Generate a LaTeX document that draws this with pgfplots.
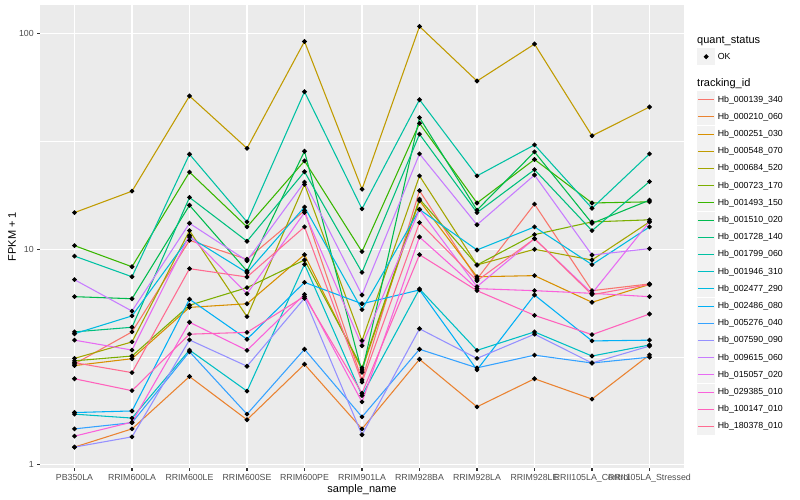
\documentclass[border=0pt]{standalone}
\usepackage{fontspec}
\setmainfont{Liberation Sans}
\usepackage{pgfplots}
\usepackage{pgfplotstable}
\pgfplotsset{compat=1.18}

\definecolor{panelbg}{HTML}{EBEBEB}
\definecolor{keybg}{HTML}{F2F2F2}
\definecolor{gray20}{HTML}{333333}
\definecolor{gray30}{HTML}{4D4D4D}
\definecolor{c1}{HTML}{F8766D}
\definecolor{c2}{HTML}{EA8331}
\definecolor{c3}{HTML}{D89000}
\definecolor{c4}{HTML}{C09B00}
\definecolor{c5}{HTML}{A3A500}
\definecolor{c6}{HTML}{7CAE00}
\definecolor{c7}{HTML}{39B600}
\definecolor{c8}{HTML}{00BB4E}
\definecolor{c9}{HTML}{00BF7D}
\definecolor{c10}{HTML}{00C1A3}
\definecolor{c11}{HTML}{00BFC4}
\definecolor{c12}{HTML}{00BAE0}
\definecolor{c13}{HTML}{00B0F6}
\definecolor{c14}{HTML}{35A2FF}
\definecolor{c15}{HTML}{9590FF}
\definecolor{c16}{HTML}{C77CFF}
\definecolor{c17}{HTML}{E76BF3}
\definecolor{c18}{HTML}{FA62DB}
\definecolor{c19}{HTML}{FF62BC}
\definecolor{c20}{HTML}{FF6C91}

% FPKM + 1, one row per sample, one column per tracking_id
\pgfplotstableread{
x  s1    s2   s3    s4    s5    s6    s7    s8    s9    s10   s11   s12   s13   s14   s15   s16   s17   s18   s19   s20
1  2.94  1.21 2.89  14.8  3.12  3.04  10.4  6.03  4.14  9.3   1.72  4.06  1.75  1.47  1.21  7.23  3.79  1.36  2.51  2.98
2  4.14  1.47 3.11  18.6  3.72  3.20  8.3   5.9   4.35  7.46  1.65  4.91  1.78  1.57  1.35  5.17  3.41  1.58  2.21  2.68
3  11.0  2.57 5.38  51.4  12.2  5.50  22.8  16.0  17.4  27.6  3.41  11.4  5.87  3.35  3.80  13.2  11.6  4.59  4.04  8.13
4  8.99  1.62 5.59  29.4  4.87  6.64  12.7  7.93  10.9  13.4  2.20  7.79  3.83  1.72  2.87  8.85  6.22  3.40  4.12  7.44
5  15.1  2.93 9.44  92.0  20.0  8.92  25.7  28.5  22.9  53.8  8.52  15.7  7.03  3.44  5.93  20.5  14.8  6.18  6.05  12.7
6  2.48  1.47 2.76  19.0  3.77  2.82  9.75  2.69  7.82  15.4  2.10  5.25  5.59  1.67  1.38  6.14  3.57  1.96  2.15  2.42
7  18.7  3.09 16.8  108   21.9  17.1  38.4  40.8  34.2  49.4  6.55  15.3  6.48  3.44  4.28  27.7  15.3  11.4  9.44  13.3
8  7.28  1.86 7.46  60.3  8.46  8.46  16.4  15.2  14.8  21.9  3.40  9.93  2.76  2.82  3.12  13.0  6.71  6.57  6.43  7.15
9  16.2  2.51 7.55  89.5  10.0  11.7  26.1  28.3  23.4  30.5  4.14  12.7  6.14  3.23  4.04  22.1  11.2  6.43  4.94  11.2
10 6.43  2.02 5.68  33.6  8.92  13.4  16.4  13.2  12.2  15.5  3.20  8.49  3.76  2.97  2.97  9.41  6.25  6.25  4.02  6.16
11 6.91  3.24 6.87  45.7  13.4  13.7  16.6  16.9  20.6  27.7  3.60  12.7  3.79  3.16  3.56  10.07 13.4  6.03  5.01  6.87
}\data

\begin{document}
\begin{tikzpicture}
\path[use as bounding box] (0,0) rectangle (800bp,500bp);
\begin{axis}[
  at={(40bp,32bp)}, anchor=south west,
  scale only axis, width=644bp, height=463bp,
  ymode=log, ymin=0.968, ymax=135.8,
  xmin=0.4, xmax=11.6,
  axis background/.style={fill=panelbg},
  axis line style={draw=none},
  xtick={1,...,11},
  xticklabels={PB350LA,RRIM600LA,RRIM600LE,RRIM600SE,RRIM600PE,RRIM901LA,RRIM928BA,RRIM928LA,RRIM928LE,RRII105LA\_Control,RRII105LA\_Stressed},
  ytick={1,10,100}, yticklabels={1,10,100},
  minor ytick={3.1623,31.623},
  grid=both,
  major grid style={white, line width=1.07bp},
  minor grid style={white, line width=0.53bp},
  tick align=outside, major tick length=2.75bp, minor tick length=0pt,
  xtick pos=bottom, ytick pos=left,
  tick style={gray20, line width=1.07bp},
  ticklabel style={font=\fontsize{8.8bp}{10bp}\selectfont, text=gray30},
  xlabel={sample\_name}, ylabel={FPKM + 1},
  label style={font=\fontsize{11bp}{13bp}\selectfont, text=black},
  xlabel style={at={(axis description cs:0.5,-0.0475)}, anchor=center},
  ylabel style={at={(axis description cs:-0.0435,0.5)}, anchor=center},
  legend cell align=left,
  legend style={at={(axis description cs:1.0202,0.9069)}, anchor=north west,
    draw=none, fill=none, inner sep=0pt, outer sep=0pt, row sep=0pt, column sep=0pt,
    nodes={inner xsep=2.4bp, inner ysep=0pt, minimum height=17.2bp,
      font=\fontsize{8.8bp}{10bp}\selectfont, text=black}},
  legend image code/.code={
    \fill[keybg] (0bp,-8.05bp) rectangle (17.28bp,8.05bp);
    \draw[#1, line width=1.07bp] (0.8bp,0bp) -- (16.5bp,0bp);},
  every axis plot/.append style={line width=1.07bp, mark=none},
]
\addlegendimage{legend image code/.code={
    \fill[keybg] (0bp,-8.05bp) rectangle (17.28bp,8.05bp);
    \fill[black] (8.64bp,0bp) circle (1.8bp);}}
\addlegendentry{OK}
\addlegendimage{empty legend}
\addlegendentry[minimum height=25.8bp]{}

\addplot[c1] table[x=x, y=s1] {\data}; \addlegendentry{Hb\_000139\_340}
\addplot[c2] table[x=x, y=s2] {\data}; \addlegendentry{Hb\_000210\_060}
\addplot[c3] table[x=x, y=s3] {\data}; \addlegendentry{Hb\_000251\_030}
\addplot[c4] table[x=x, y=s4] {\data}; \addlegendentry{Hb\_000548\_070}
\addplot[c5] table[x=x, y=s5] {\data}; \addlegendentry{Hb\_000684\_520}
\addplot[c6] table[x=x, y=s6] {\data}; \addlegendentry{Hb\_000723\_170}
\addplot[c7] table[x=x, y=s7] {\data}; \addlegendentry{Hb\_001493\_150}
\addplot[c8] table[x=x, y=s8] {\data}; \addlegendentry{Hb\_001510\_020}
\addplot[c9] table[x=x, y=s9] {\data}; \addlegendentry{Hb\_001728\_140}
\addplot[c10] table[x=x, y=s10] {\data}; \addlegendentry{Hb\_001799\_060}
\addplot[c11] table[x=x, y=s11] {\data}; \addlegendentry{Hb\_001946\_310}
\addplot[c12] table[x=x, y=s12] {\data}; \addlegendentry{Hb\_002477\_290}
\addplot[c13] table[x=x, y=s13] {\data}; \addlegendentry{Hb\_002486\_080}
\addplot[c14] table[x=x, y=s14] {\data}; \addlegendentry{Hb\_005276\_040}
\addplot[c15] table[x=x, y=s15] {\data}; \addlegendentry{Hb\_007590\_090}
\addplot[c16] table[x=x, y=s16] {\data}; \addlegendentry{Hb\_009615\_060}
\addplot[c17] table[x=x, y=s17] {\data}; \addlegendentry{Hb\_015057\_020}
\addplot[c18] table[x=x, y=s18] {\data}; \addlegendentry{Hb\_029385\_010}
\addplot[c19] table[x=x, y=s19] {\data}; \addlegendentry{Hb\_100147\_010}
\addplot[c20] table[x=x, y=s20] {\data}; \addlegendentry{Hb\_180378\_010}

% points layer (quant_status = OK) on top of all lines
\pgfplotsinvokeforeach{1,...,20}{
  \addplot[forget plot, only marks, mark=*, mark size=1.8bp, black] table[x=x, y=s#1] {\data};
}
\end{axis}
\node[anchor=west, inner sep=0pt, font=\fontsize{11bp}{13bp}\selectfont] at (697bp,459.3bp) {quant\_status};
\node[anchor=west, inner sep=0pt, font=\fontsize{11bp}{13bp}\selectfont] at (697bp,416.7bp) {tracking\_id};
\end{tikzpicture}
\end{document}
